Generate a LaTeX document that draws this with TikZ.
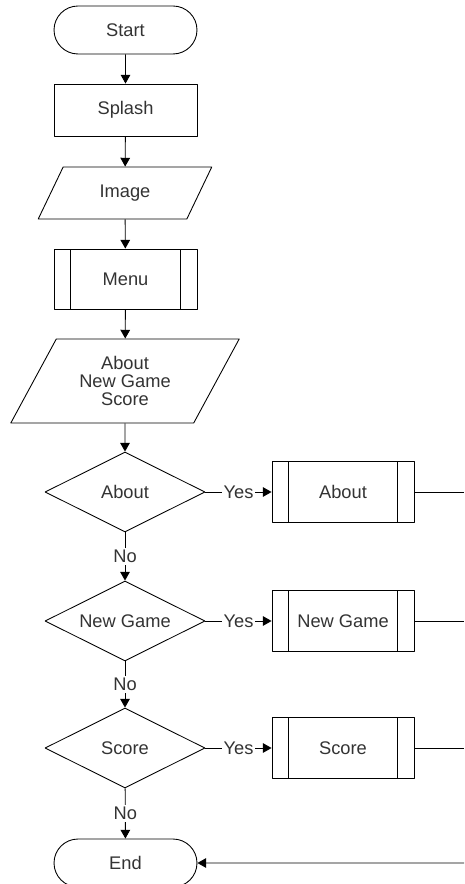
\documentclass[tikz,border=0pt]{standalone}
\usepackage{fontspec}
\setsansfont{Liberation Sans}
\usetikzlibrary{shapes.geometric,shapes.misc,arrows.meta}
\begin{document}
\begin{tikzpicture}[x=0.02cm, y=-0.02cm, line width=0.5pt, line join=round,
  font=\sffamily\fontsize{10.4}{10.5}\selectfont, >={Triangle[length=5pt,width=5.5pt]},
  every node/.style={text=black!80, align=center, inner sep=0pt},
  term/.style={draw=black, rounded rectangle, minimum width=2.86cm, minimum height=0.96cm},
  proc/.style={draw=black, rectangle, minimum width=2.86cm, minimum height=1.04cm},
  io/.style={draw=black, trapezium, trapezium stretches=true},
  subproc/.style={draw=black, rectangle, minimum height=1.22cm, path picture={
    \draw ([xshift=0.33cm]path picture bounding box.south west)--([xshift=0.33cm]path picture bounding box.north west)
          ([xshift=-0.33cm]path picture bounding box.south east)--([xshift=-0.33cm]path picture bounding box.north east);}},
  dec/.style={draw=black, diamond, aspect=2, minimum width=3.2cm, minimum height=1.6cm},
  lbl/.style={fill=white, inner sep=1pt}]
\useasboundingbox (0,0) rectangle (464,884);
\node[term] (start) at (125.5,30) {Start};
\node[proc] (splash) at (125.5,110) {Splash};
\node[io, trapezium left angle=58, trapezium right angle=122, minimum width=3.48cm, minimum height=1.04cm] (image) at (125,193) {Image};
\node[subproc, minimum width=2.86cm, minimum height=1.2cm] (menu) at (125.5,279) {Menu};
\node[io, trapezium left angle=59, trapezium right angle=121, minimum width=4.6cm, minimum height=1.68cm] (choice) at (125,381) {About\\New Game\\Score};
\node[term] (stop) at (125.5,863) {End};
\coordinate (rstop) at (464,863);
\foreach \n/\t/\y in {about/About/492,newgame/New Game/621,score/Score/748} {
  \node[dec] (d\n) at (125,\y) {\t};
  \node[subproc, minimum width=2.84cm] (p\n) at (343,\y) {\t};
  \coordinate (r\n) at (464,\y);
  \draw[->] (d\n)--node[lbl]{Yes}(p\n);
  \draw (p\n)--(r\n);
}
\foreach \a/\b in {start/splash,splash/image,image/menu,menu/choice,choice/dabout} {\draw[->] (\a)--(\b);}
\foreach \a/\b in {dabout/dnewgame,dnewgame/dscore,dscore/stop} {\draw[->] (\a)--node[lbl]{No}(\b);}
\draw[->] (rstop)--(stop);
\end{tikzpicture}
\end{document}
